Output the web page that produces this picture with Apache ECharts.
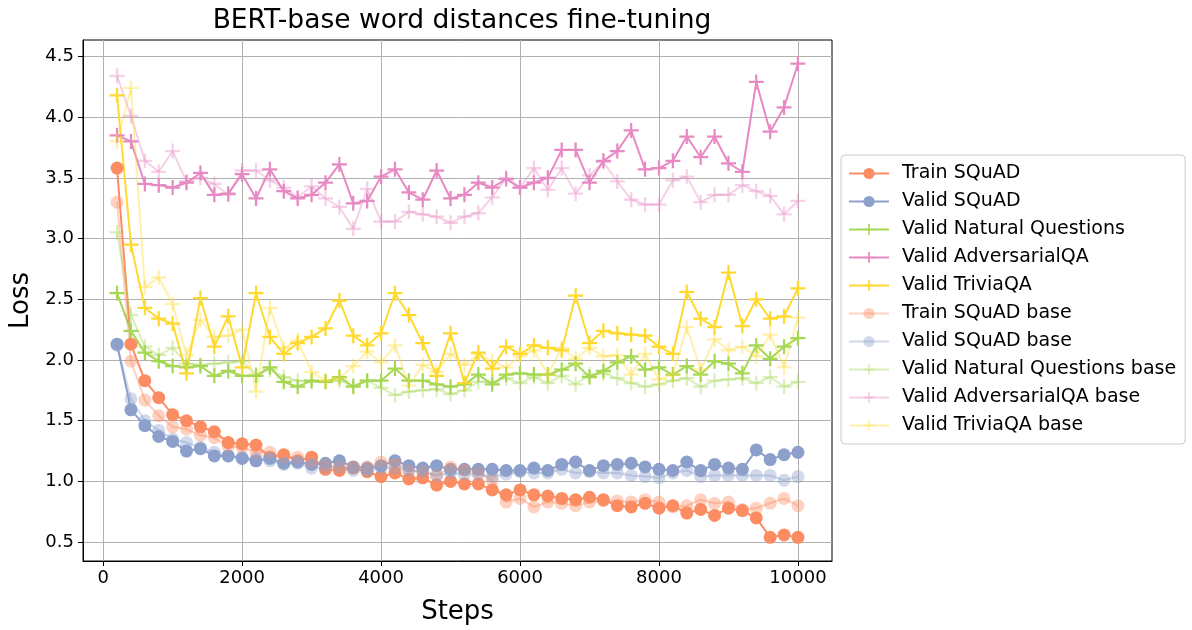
<!DOCTYPE html>
<html>
<head>
<meta charset="utf-8">
<script src="https://cdn.jsdelivr.net/npm/echarts@6/dist/echarts.min.js"></script>
<style>
  html, body { margin: 0; padding: 0; background: #fff; }
  #chart { width: 1192px; height: 630px; }
</style>
</head>
<body>
<div id="chart"></div>
<script>
var steps = [200, 400, 600, 800, 1000, 1200, 1400, 1600, 1800, 2000,
  2200, 2400, 2600, 2800, 3000, 3200, 3400, 3600, 3800, 4000,
  4200, 4400, 4600, 4800, 5000, 5200, 5400, 5600, 5800, 6000,
  6200, 6400, 6600, 6800, 7000, 7200, 7400, 7600, 7800, 8000,
  8200, 8400, 8600, 8800, 9000, 9200, 9400, 9600, 9800, 10000];

var trainSquad = [3.58, 2.13, 1.83, 1.69, 1.55, 1.50, 1.45, 1.41, 1.32, 1.31,
  1.30, 1.20, 1.22, 1.17, 1.20, 1.10, 1.09, 1.11, 1.08, 1.04,
  1.07, 1.02, 1.03, 0.97, 1.00, 0.98, 0.98, 0.93, 0.89, 0.93,
  0.89, 0.88, 0.86, 0.85, 0.87, 0.85, 0.80, 0.79, 0.82, 0.78,
  0.80, 0.74, 0.77, 0.72, 0.78, 0.76, 0.70, 0.54, 0.56, 0.54];
var validSquad = [2.13, 1.59, 1.46, 1.37, 1.33, 1.25, 1.27, 1.21, 1.21, 1.19,
  1.17, 1.19, 1.15, 1.16, 1.14, 1.15, 1.17, 1.12, 1.11, 1.13,
  1.17, 1.13, 1.11, 1.13, 1.10, 1.10, 1.10, 1.10, 1.09, 1.09,
  1.11, 1.09, 1.14, 1.16, 1.09, 1.13, 1.14, 1.15, 1.12, 1.10,
  1.09, 1.16, 1.09, 1.14, 1.11, 1.10, 1.26, 1.18, 1.22, 1.24];
var validNQ = [2.55, 2.24, 2.06, 1.99, 1.95, 1.94, 1.95, 1.87, 1.91, 1.87,
  1.87, 1.94, 1.82, 1.78, 1.83, 1.82, 1.86, 1.78, 1.83, 1.83,
  1.93, 1.83, 1.83, 1.80, 1.78, 1.80, 1.88, 1.80, 1.88, 1.89,
  1.88, 1.88, 1.92, 1.97, 1.86, 1.91, 1.98, 2.03, 1.92, 1.94,
  1.88, 1.95, 1.88, 1.99, 1.97, 1.89, 2.12, 2.01, 2.11, 2.18];
var validAdv = [3.85, 3.80, 3.45, 3.44, 3.42, 3.46, 3.54, 3.36, 3.37, 3.53,
  3.33, 3.57, 3.39, 3.33, 3.36, 3.46, 3.61, 3.29, 3.31, 3.51,
  3.57, 3.38, 3.32, 3.56, 3.33, 3.36, 3.46, 3.42, 3.49, 3.42,
  3.46, 3.50, 3.73, 3.73, 3.46, 3.64, 3.72, 3.89, 3.57, 3.58,
  3.64, 3.84, 3.67, 3.84, 3.62, 3.55, 4.29, 3.88, 4.08, 4.44];
var validTrivia = [4.18, 2.95, 2.43, 2.34, 2.30, 1.89, 2.51, 2.11, 2.36, 1.94,
  2.55, 2.19, 2.05, 2.14, 2.19, 2.26, 2.49, 2.20, 2.12, 2.22,
  2.55, 2.37, 2.14, 1.87, 2.22, 1.81, 2.06, 1.93, 2.11, 2.05,
  2.12, 2.10, 2.08, 2.53, 2.14, 2.24, 2.22, 2.21, 2.20, 2.11,
  2.05, 2.56, 2.34, 2.27, 2.72, 2.28, 2.50, 2.34, 2.36, 2.59];

var trainSquadBase = [3.30, 1.99, 1.67, 1.54, 1.45, 1.43, 1.38, 1.36, 1.29, 1.28,
  1.24, 1.24, 1.20, 1.20, 1.16, 1.13, 1.12, 1.12, 1.12, 1.16,
  1.14, 1.09, 1.08, 1.05, 1.12, 1.09, 1.07, 1.01, 0.83, 0.86,
  0.79, 0.83, 0.82, 0.80, 0.83, 0.84, 0.84, 0.83, 0.85, 0.83,
  0.79, 0.80, 0.85, 0.82, 0.83, 0.77, 0.78, 0.82, 0.86, 0.80];
var validSquadBase = [2.12, 1.68, 1.50, 1.42, 1.35, 1.32, 1.28, 1.24, 1.21, 1.20,
  1.19, 1.17, 1.14, 1.15, 1.11, 1.12, 1.12, 1.09, 1.09, 1.11,
  1.11, 1.09, 1.08, 1.05, 1.07, 1.06, 1.06, 1.04, 1.06, 1.08,
  1.07, 1.07, 1.10, 1.07, 1.08, 1.07, 1.07, 1.05, 1.04, 1.03,
  1.07, 1.09, 1.04, 1.05, 1.05, 1.05, 1.05, 1.05, 1.01, 1.04];
var validNQBase = [3.05, 2.37, 2.11, 2.04, 2.10, 1.97, 1.96, 1.97, 1.98, 1.99,
  1.88, 1.92, 1.86, 1.83, 1.82, 1.82, 1.83, 1.79, 1.83, 1.77,
  1.71, 1.74, 1.75, 1.76, 1.72, 1.75, 1.82, 1.82, 1.85, 1.81,
  1.86, 1.81, 1.87, 1.80, 1.88, 1.89, 1.85, 1.81, 1.78, 1.80,
  1.83, 1.85, 1.78, 1.83, 1.84, 1.85, 1.81, 1.86, 1.78, 1.82];
var validAdvBase = [4.34, 4.01, 3.64, 3.55, 3.72, 3.47, 3.50, 3.45, 3.36, 3.56,
  3.56, 3.48, 3.42, 3.34, 3.43, 3.33, 3.26, 3.08, 3.41, 3.14,
  3.14, 3.22, 3.20, 3.18, 3.13, 3.18, 3.21, 3.34, 3.50, 3.42,
  3.58, 3.40, 3.58, 3.37, 3.52, 3.63, 3.47, 3.32, 3.28, 3.28,
  3.48, 3.51, 3.30, 3.36, 3.36, 3.44, 3.39, 3.35, 3.20, 3.31];
var validTriviaBase = [3.80, 4.24, 2.60, 2.68, 2.46, 2.04, 2.33, 2.19, 2.20, 2.25,
  1.74, 2.43, 2.10, 2.16, 1.90, 1.83, 1.85, 1.95, 2.07, 1.98,
  2.12, 1.79, 1.96, 1.90, 2.05, 1.96, 2.05, 1.99, 1.94, 2.03,
  2.08, 1.88, 2.10, 2.01, 2.10, 2.03, 2.04, 1.88, 2.05, 1.84,
  1.88, 2.27, 1.92, 2.17, 2.08, 2.11, 2.03, 2.21, 1.94, 2.35];

var xTicks = [0, 2000, 4000, 6000, 8000, 10000];
var yTicks = [0.5, 1.0, 1.5, 2.0, 2.5, 3.0, 3.5, 4.0, 4.5];

var FONT = 'DejaVu Sans';
var PLUS = 'path://M4.25,0H5.75V4.25H10V5.75H5.75V10H4.25V5.75H0V4.25H4.25Z';

function pairs(vals) {
  return steps.map(function (s, i) { return [s, vals[i]]; });
}

function makeSeries(name, vals, color, symbol, faded) {
  var op = faded ? 0.4 : 1;
  return {
    name: name,
    type: 'line',
    data: pairs(vals),
    symbol: symbol === 'circle' ? 'circle' : PLUS,
    symbolSize: symbol === 'circle' ? 13 : 15,
    showAllSymbol: true,
    animation: false,
    lineStyle: { color: color, width: 2, opacity: op },
    itemStyle: { color: color, opacity: op, borderWidth: 0 },
    emphasis: { disabled: true }
  };
}

var chart = echarts.init(document.getElementById('chart'));

var option = {
  animation: false,
  backgroundColor: '#fff',
  title: {
    text: 'BERT-base word distances fine-tuning',
    left: 457, top: 3, textAlign: 'center',
    textStyle: { fontFamily: FONT, fontSize: 26.5, fontWeight: 'normal', color: '#000' }
  },
  grid: {
    left: 83, right: 360, top: 40, bottom: 68,
    show: true, borderColor: '#000', borderWidth: 1
  },
  legend: {
    orient: 'vertical',
    left: 841, top: 155,
    padding: [9, 9, 9, 7],
    itemWidth: 40, itemHeight: 14, itemGap: 9,
    borderColor: '#cccccc', borderWidth: 1, borderRadius: 4,
    backgroundColor: '#fff',
    selectedMode: false,
    textStyle: { fontFamily: FONT, fontSize: 19, color: '#000', lineHeight: 16, padding: [0, 0, 0, 8] }
  },
  xAxis: {
    type: 'value',
    min: -290, max: 10490,
    name: 'Steps', nameLocation: 'middle', nameGap: 38,
    nameTextStyle: { fontFamily: FONT, fontSize: 26, color: '#000' },
    axisLine: { show: true, onZero: false, lineStyle: { color: '#000', width: 1 } },
    axisTick: { show: true, inside: false, length: 5, customValues: xTicks, lineStyle: { color: '#000' } },
    axisLabel: {
      customValues: xTicks, margin: 8, fontFamily: FONT, fontSize: 18, color: '#000',
      formatter: function (v) { return String(v); }
    },
    splitLine: { show: true, lineStyle: { color: '#b0b0b0', width: 1 } }
  },
  yAxis: {
    type: 'value',
    min: 0.345, max: 4.635,
    name: 'Loss', nameLocation: 'middle', nameGap: 47,
    nameTextStyle: { fontFamily: FONT, fontSize: 26, color: '#000' },
    axisLine: { show: true, onZero: false, lineStyle: { color: '#000', width: 1 } },
    axisTick: { show: true, inside: false, length: 5, customValues: yTicks, lineStyle: { color: '#000' } },
    axisLabel: {
      customValues: yTicks, margin: 9, fontFamily: FONT, fontSize: 18, color: '#000',
      formatter: function (v) { return v.toFixed(1); }
    },
    splitLine: { show: true, lineStyle: { color: '#b0b0b0', width: 1 } }
  },
  series: [
    makeSeries('Train SQuAD', trainSquad, '#fc8d62', 'circle', false),
    makeSeries('Valid SQuAD', validSquad, '#8da0cb', 'circle', false),
    makeSeries('Valid Natural Questions', validNQ, '#a6d854', 'plus', false),
    makeSeries('Valid AdversarialQA', validAdv, '#e78ac3', 'plus', false),
    makeSeries('Valid TriviaQA', validTrivia, '#ffd92f', 'plus', false),
    makeSeries('Train SQuAD base', trainSquadBase, '#fc8d62', 'circle', true),
    makeSeries('Valid SQuAD base', validSquadBase, '#8da0cb', 'circle', true),
    makeSeries('Valid Natural Questions base', validNQBase, '#a6d854', 'plus', true),
    makeSeries('Valid AdversarialQA base', validAdvBase, '#e78ac3', 'plus', true),
    makeSeries('Valid TriviaQA base', validTriviaBase, '#ffd92f', 'plus', true)
  ]
};

chart.setOption(option);
</script>
</body>
</html>
